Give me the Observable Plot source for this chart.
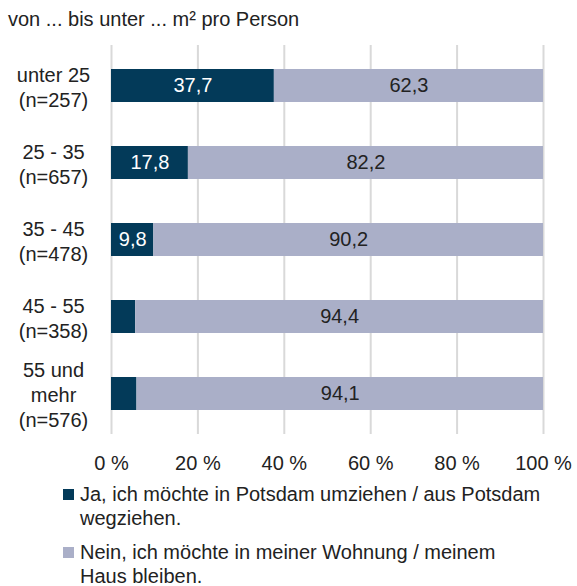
<!DOCTYPE html>
<html><head><meta charset="utf-8">
<script src="https://cdn.jsdelivr.net/npm/d3@7"></script>
<script src="https://cdn.jsdelivr.net/npm/@observablehq/plot@0.6"></script>
<style>
body{margin:0;background:#fff;font-family:"Liberation Sans",Arial,sans-serif;color:#222;}
#wrap{position:relative;width:577px;height:586px;overflow:hidden;}
#title{position:absolute;left:8px;top:7px;font-size:20px;line-height:24px;}
.leg{position:absolute;left:80px;font-size:20px;line-height:24px;width:497px;white-space:nowrap;}
.sw{position:absolute;left:-17px;top:7px;width:11px;height:11px;}
#chart{position:absolute;left:0;top:0;}
</style></head>
<body><div id="wrap">
<div id="chart"></div>
<div id="title">von ... bis unter ... m² pro Person</div>
<div class="leg" style="top:482px"><span class="sw" style="background:#033a59"></span>Ja, ich möchte in Potsdam umziehen / aus Potsdam<br>wegziehen.</div>
<div class="leg" style="top:540px"><span class="sw" style="background:#aaafc8"></span>Nein, ich möchte in meiner Wohnung / meinem<br>Haus bleiben.</div>
</div>
<script>
const categories = ["unter 25", "25 - 35", "35 - 45", "45 - 55", "55 und mehr"];
const categoryLabels = ["unter 25\n(n=257)", "25 - 35\n(n=657)", "35 - 45\n(n=478)", "45 - 55\n(n=358)", "55 und\nmehr\n(n=576)"];
const seriesNames = ["Ja", "Nein"];
const jaValues = [37.7, 17.8, 9.8, 5.6, 5.9];
const neinValues = [62.3, 82.2, 90.2, 94.4, 94.1];
const xTicks = [0, 20, 40, 60, 80, 100];
const colors = ["#033a59", "#aaafc8"];

const data = [];
categories.forEach((c, i) => {
  data.push({cat: c, series: "Ja", value: jaValues[i]});
  data.push({cat: c, series: "Nein", value: neinValues[i]});
});
const fmt = v => v.toFixed(1).replace(".", ",");
const labelOf = Object.fromEntries(categories.map((c, i) => [c, categoryLabels[i]]));

const chart = Plot.plot({
  width: 577, height: 480,
  marginLeft: 111, marginRight: 34, marginTop: 45, marginBottom: 46,
  style: {fontFamily: "'Liberation Sans', Arial, sans-serif", fontSize: "20px", color: "#222"},
  x: {domain: [0, 100], ticks: xTicks, axis: null},
  y: {domain: categories, padding: 0, axis: null},
  color: {domain: seriesNames, range: colors},
  marks: [
    Plot.gridX(xTicks, {stroke: "#d9d9d9", strokeOpacity: 1, strokeWidth: 2}),
    Plot.barX(data, Plot.stackX({x: "value", y: "cat", fill: "series", insetTop: 22, insetBottom: 22, order: seriesNames})),
    Plot.text(data, Plot.stackX({x: "value", y: "cat", z: "series", order: seriesNames,
      text: d => d.value >= 8 ? fmt(d.value) : "",
      fill: d => d.series === "Ja" ? "#fff" : "#222", fontSize: 20})),
    Plot.text(categories, {y: d => d, text: d => labelOf[d], frameAnchor: "left", dx: -58, textAnchor: "middle", lineHeight: 1.25, fontSize: 20, fill: "#222"}),
    Plot.axisX({ticks: xTicks, tickSize: 0, tickPadding: 21, tickFormat: d => d + " %", fontSize: 20, color: "#222", label: null})
  ]
});
document.getElementById("chart").appendChild(chart);
</script>
</body></html>
